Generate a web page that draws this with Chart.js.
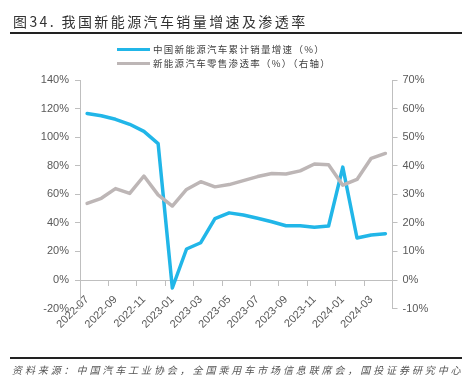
<!DOCTYPE html>
<html><head><meta charset="utf-8">
<script src="https://cdn.jsdelivr.net/npm/chart.js@4.4.0/dist/chart.umd.min.js"></script>
<style>
html,body{margin:0;padding:0;background:#fff;}
#wrap{position:relative;width:471px;height:384px;overflow:hidden;font-family:"Noto Sans CJK SC","Noto Sans",sans-serif;}
#c{position:absolute;left:0;top:0;}
#title{position:absolute;left:13px;top:12px;font-size:14px;line-height:18px;letter-spacing:2.4px;color:#333;white-space:nowrap;}
#tline{position:absolute;left:10px;top:32px;width:452px;height:2px;background:#222;}
.leg{position:absolute;left:117px;height:12px;font-size:9.5px;line-height:12px;color:#404040;letter-spacing:1.3px;white-space:nowrap;}
.leg i{display:inline-block;width:33px;height:3px;vertical-align:middle;margin-right:3px;position:relative;top:-1px;}
#bline{position:absolute;left:10px;top:357px;width:452px;height:1.5px;background:#222;}
#src{position:absolute;left:12px;top:363px;font-size:10px;line-height:13px;font-style:italic;letter-spacing:2.9px;color:#555;white-space:nowrap;}
</style></head>
<body><div id="wrap">
<canvas id="c" width="471" height="384"></canvas>
<div id="title">图34. 我国新能源汽车销量增速及渗透率</div>
<div id="tline"></div>
<div class="leg" style="top:43px"><i style="background:#21b6e8"></i>中国新能源汽车累计销量增速（%）</div>
<div class="leg" style="top:57px"><i style="background:#bdb6b6"></i>新能源汽车零售渗透率（%）（右轴）</div>
<div id="bline"></div>
<div id="src">资料来源：中国汽车工业协会，全国乘用车市场信息联席会，国投证券研究中心</div>
</div>
<script>
const months = ['2022-07','2022-08','2022-09','2022-10','2022-11','2022-12',
  '2023-01','2023-02','2023-03','2023-04','2023-05','2023-06','2023-07','2023-08',
  '2023-09','2023-10','2023-11','2023-12','2024-01','2024-02','2024-03','2024-04'];
const salesGrowth = [116.5, 115, 112.5, 109, 104, 95.5, -5.6, 21.7, 26.1, 43, 47, 45.5,
  43.2, 40.8, 38, 38, 37, 37.8, 79, 29.4, 31.5, 32.4];
const penetration = [26.8, 28.6, 32, 30.3, 36.4, 29.8, 25.9, 31.7, 34.4, 32.6, 33.4, 34.8,
  36.2, 37.3, 37.1, 38.2, 40.6, 40.3, 33.2, 35.2, 42.6, 44.3];
const leftTicks = [-20, 0, 20, 40, 60, 80, 100, 120, 140];
const rightTicks = [-10, 0, 10, 20, 30, 40, 50, 60, 70];

const axisGray = '#bfbfbf';
const tickFont = {family: '"Liberation Sans", Arial, sans-serif', size: 11};

new Chart(document.getElementById('c'), {
  type: 'line',
  data: {
    labels: months,
    datasets: [
      {label: '中国新能源汽车累计销量增速（%）', data: salesGrowth, yAxisID: 'y',
       borderColor: '#21b6e8', borderWidth: 3.5, pointRadius: 0, tension: 0, order: 1,
       borderJoinStyle: 'round', borderCapStyle: 'round'},
      {label: '新能源汽车零售渗透率（%）（右轴）', data: penetration, yAxisID: 'y1',
       borderColor: '#bdb6b6', borderWidth: 3.5, pointRadius: 0, tension: 0, order: 0,
       borderJoinStyle: 'round', borderCapStyle: 'round'}
    ]
  },
  options: {
    responsive: false,
    animation: false,
    layout: {padding: {left: 40, right: 38.5, top: 80, bottom: 75.4}},
    plugins: {legend: {display: false}, tooltip: {enabled: false}},
    scales: {
      x: {
        type: 'category',
        position: {y: 0},
        offset: true,
        grid: {offset: true, drawOnChartArea: false, drawTicks: true, tickLength: 5,
               color: ctx => (ctx.index % 2 === 0 ? axisGray : 'rgba(0,0,0,0)')},
        border: {color: axisGray, width: 1},
        ticks: {autoSkip: false, maxRotation: 45, minRotation: 45, padding: 8,
                color: '#595959', font: {family: '"Liberation Sans", Arial, sans-serif', size: 11},
                callback: (v, i) => (i % 2 === 0 ? months[i] : '')}
      },
      y: {
        position: 'left', min: -20, max: 140,
        afterBuildTicks: s => { s.ticks = leftTicks.map(v => ({value: v})); },
        afterFit: s => { s.width = 40; },
        grid: {drawOnChartArea: false, tickLength: 5, color: axisGray},
        border: {color: axisGray},
        ticks: {padding: 6, color: '#595959', font: tickFont, callback: v => v + '%'}
      },
      y1: {
        position: 'right', min: -10, max: 70,
        afterBuildTicks: s => { s.ticks = rightTicks.map(v => ({value: v})); },
        afterFit: s => { s.width = 40; },
        grid: {drawOnChartArea: false, tickLength: 5, color: axisGray},
        border: {color: axisGray},
        ticks: {padding: 5, color: '#595959', font: tickFont, callback: v => v + '%'}
      }
    }
  }
});
</script>
</body></html>
